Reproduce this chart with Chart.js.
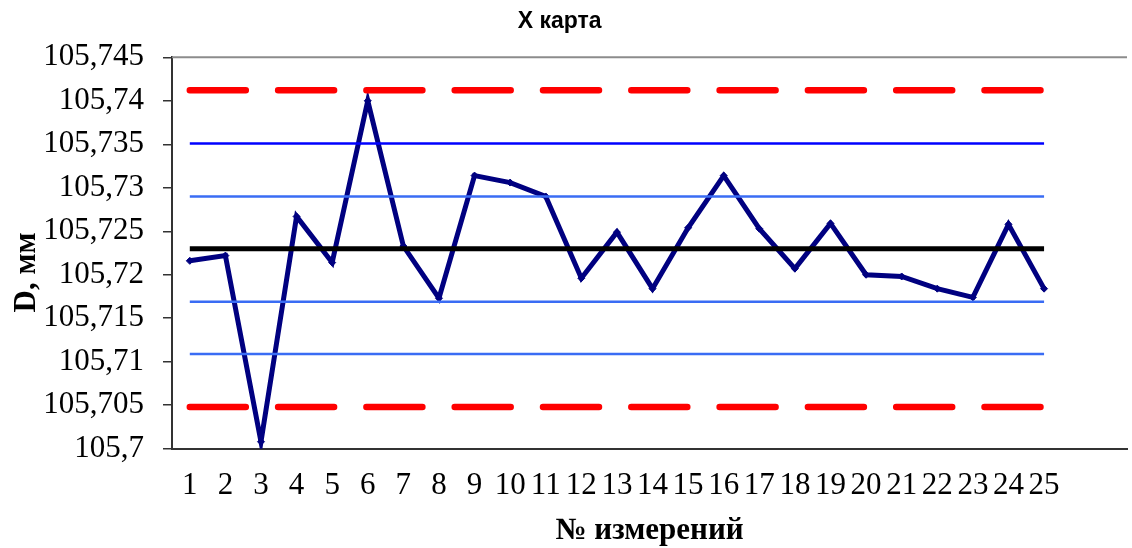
<!DOCTYPE html>
<html><head><meta charset="utf-8">
<script src="https://cdn.jsdelivr.net/npm/chart.js@4/dist/chart.umd.min.js"></script>
<style>html,body{margin:0;padding:0;background:#fff;overflow:hidden}#wrap{width:1132px;height:548px}</style>
</head><body><div id="wrap"><canvas id="c" width="1132" height="548"></canvas></div>
<script>
const categories = [1,2,3,4,5,6,7,8,9,10,11,12,13,14,15,16,17,18,19,20,21,22,23,24,25];
const measurements = [105.7216, 105.7222, 105.7008, 105.7267, 105.7214, 105.7400, 105.7233, 105.7173, 105.7314, 105.7306,
  105.7290, 105.7196, 105.7249, 105.7184, 105.7254, 105.7314, 105.7253, 105.7207, 105.7259, 105.7200,
  105.7198, 105.7184, 105.7174, 105.7258, 105.7184];
const centerLine = 105.7230;
const upperControl = 105.7412;
const lowerControl = 105.7048;
const upper2Sigma = 105.7351;
const upper1Sigma = 105.7290;
const lower1Sigma = 105.7169;
const lower2Sigma = 105.7109;
const yTickValues = [105.7, 105.705, 105.71, 105.715, 105.72, 105.725, 105.73, 105.735, 105.74, 105.745];

const first = categories[0], last = categories[categories.length - 1];
const hLine = v => [{x: first, y: v}, {x: last, y: v}];

const frame = {
  id: 'frame',
  beforeDatasetsDraw(chart) {
    const {ctx, chartArea: a} = chart;
    ctx.save();
    ctx.strokeStyle = '#8c8c8c';
    ctx.lineWidth = 2;
    ctx.beginPath();
    ctx.moveTo(a.left, a.top);
    ctx.lineTo(a.right, a.top);
    ctx.stroke();
    ctx.restore();
  }
};

const ref = (v, color, width, dash) => ({
  type: 'line', data: hLine(v), borderColor: color, borderWidth: width,
  borderDash: dash || [], borderCapStyle: dash ? 'round' : 'butt',
  pointRadius: 0, fill: false, tension: 0
});

new Chart(document.getElementById('c'), {
  type: 'line',
  data: {
    datasets: [
      ref(upperControl, '#ff0000', 6.5, [56, 32.3]),
      ref(lowerControl, '#ff0000', 6.5, [56, 32.3]),
      ref(centerLine, '#000000', 5),
      ref(upper2Sigma, '#0000ff', 2.5),
      ref(upper1Sigma, '#3a6cf4', 2.5),
      ref(lower1Sigma, '#3a6cf4', 2.5),
      ref(lower2Sigma, '#3a6cf4', 2.5),
      {
        data: categories.map((c, i) => ({x: c, y: measurements[i]})),
        borderColor: '#000080', backgroundColor: '#000080', borderWidth: 5,
        pointStyle: 'rectRot', pointRadius: 3.5, pointBorderWidth: 1,
        pointBorderColor: '#000080', pointBackgroundColor: '#000080',
        tension: 0, fill: false, borderJoinStyle: 'miter'
      }
    ]
  },
  options: {
    responsive: false,
    devicePixelRatio: 1,
    animation: false,
    layout: {padding: 0},
    plugins: {
      legend: {display: false},
      tooltip: {enabled: false},
      title: {
        display: true, text: 'X карта  ', color: '#000',
        font: {family: 'Liberation Sans, Arial, sans-serif', size: 23, weight: 'bold'},
        padding: {top: 7.5, bottom: 22.2}
      }
    },
    scales: {
      x: {
        type: 'linear', min: 0.5, max: 27.33,
        afterBuildTicks: s => { s.ticks = categories.map(c => ({value: c})); },
        afterFit: s => { s.height = 99.3; },
        grid: {display: false, drawTicks: false},
        border: {display: true, color: '#333', width: 2},
        ticks: {
          autoSkip: false, maxRotation: 0, padding: 19,
          color: '#000', font: {family: 'Liberation Serif, Times New Roman, serif', size: 31},
          callback: v => String(v)
        },
        title: {
          display: true, text: '№ измерений', color: '#000',
          font: {family: 'Liberation Serif, Times New Roman, serif', size: 31, weight: 'bold'},
          padding: {top: 0, bottom: -1.5}
        }
      },
      y: {
        min: 105.7, max: 105.745,
        afterBuildTicks: s => { s.ticks = yTickValues.map(v => ({value: v})); },
        afterFit: s => { s.width = 172; },
        grid: {display: true, drawOnChartArea: false, drawTicks: true, tickLength: 9, color: '#333', lineWidth: 1.5},
        border: {display: true, color: '#333', width: 2},
        ticks: {
          padding: 19, color: '#000',
          font: {family: 'Liberation Serif, Times New Roman, serif', size: 31},
          callback: v => (Math.round(v * 1000) / 1000).toString().replace('.', ',')
        },
        title: {
          display: true, text: 'D, мм     ', color: '#000',
          font: {family: 'Liberation Serif, Times New Roman, serif', size: 31, weight: 'bold'},
          padding: {top: 8, bottom: 0}
        }
      }
    }
  },
  plugins: [frame]
});
</script>
</body></html>
